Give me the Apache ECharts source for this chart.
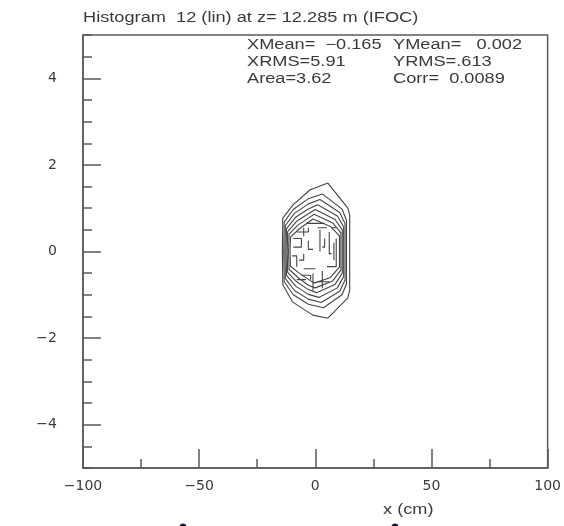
<!DOCTYPE html>
<html>
<head>
<meta charset="utf-8">
<script src="https://cdn.jsdelivr.net/npm/echarts@6/dist/echarts.min.js"></script>
<style>
  html, body { margin: 0; padding: 0; background: #fff; }
  #chart { width: 564px; height: 526px; }
</style>
</head>
<body>
<div id="chart"></div>
<script>
// Axis settings
const xTicks = [-100, -50, 0, 50, 100];
const yTicks = [-4, -2, 0, 2, 4];

// Header and statistics box
const titleText = 'Histogram  12 (lin) at z= 12.285 m (IFOC)';
const statsLeft = ['XMean=  \u22120.165', 'XRMS=5.91', 'Area=3.62'];
const statsRight = ['YMean=   0.002', 'YRMS=.613', 'Corr=  0.0089'];
const xAxisTitle = 'x (cm)';

// Nested contour levels, outermost first: [x (cm), y]
const contour1 = [[5.4,1.58],[14,1.0],[14.8,0.84],[14.8,-0.89],[14,-1.07],[5.4,-1.54],[-1.1,-1.47],[-9.7,-1.17],[-14,-0.77],[-14.2,0],[-14,0.77],[-9.7,1.07],[-2.4,1.42],[5.4,1.58]];
const contour2 = [[3,1.33],[11.5,0.98],[13.4,0.72],[13.4,-0.75],[11.5,-1.0],[3.5,-1.3],[-3,-1.22],[-9.5,-1.0],[-13.4,-0.7],[-13.6,0],[-13.4,0.68],[-9.5,0.97],[-3,1.22],[3,1.33]];
const contour3 = [[2,1.2],[10.5,0.9],[12.8,0.64],[12.8,-0.66],[10.5,-0.92],[2.5,-1.18],[-3,-1.1],[-9,-0.9],[-12.9,-0.62],[-13.1,0],[-12.9,0.6],[-9,0.88],[-3,1.1],[2,1.2]];
const contour4 = [[1,1.08],[9.5,0.82],[12.2,0.57],[12.2,-0.58],[9.5,-0.84],[1.5,-1.06],[-3,-0.99],[-8.5,-0.8],[-12.4,-0.55],[-12.6,0],[-12.4,0.53],[-8.5,0.79],[-3,0.98],[1,1.08]];
const contour5 = [[0,0.97],[8.5,0.74],[11.6,0.5],[11.6,-0.5],[8.5,-0.76],[0.5,-0.95],[-3,-0.88],[-8,-0.7],[-11.9,-0.48],[-12.1,0],[-11.9,0.46],[-8,0.7],[-3,0.87],[0,0.97]];
const contour6 = [[-0.5,0.86],[7.5,0.66],[11,0.43],[11,-0.43],[7.5,-0.68],[0,-0.84],[-3,-0.78],[-7.5,-0.6],[-11.3,-0.41],[-11.5,0],[-11.3,0.4],[-7.5,0.61],[-3,0.77],[-0.5,0.86]];
const contour7 = [[-1,0.75],[6.5,0.58],[10.4,0.36],[10.4,-0.36],[6.5,-0.6],[-0.5,-0.73],[-7,-0.5],[-10.7,-0.34],[-10.9,0],[-10.7,0.33],[-7,0.52],[-1,0.75]];

// Broken contour pieces from the noisy core of the distribution
const fragments = [
  [[-8,0.45],[-3,0.45],[-3,0.55]],
  [[1,0.55],[5,0.55]],
  [[2,0.5],[2,0.0]],
  [[6,0.45],[6,-0.05],[7,-0.05]],
  [[-9.5,0.3],[-6,0.3],[-6,0.1],[-9.5,0.1]],
  [[-10,-0.1],[-8,-0.1],[-8,-0.35]],
  [[-5,-0.4],[0,-0.4]],
  [[-1,-0.5],[-1,-0.9]],
  [[3,-0.45],[3,-0.85]],
  [[5,-0.35],[9,-0.35],[9,0.3]],
  [[-6,-0.55],[-2,-0.55],[-2,-0.65]],
  [[1,-0.7],[6,-0.7]],
  [[-4,0.65],[4,0.65]],
  [[8,0.2],[8,-0.2]],
  [[-3,0.25],[-3,0.05],[-1,0.05]],
  [[4,0.3],[4,0.1],[3,0.1]],
  [[-7,-0.2],[-5,-0.2],[-5,-0.05]],
  [[7,0.55],[9,0.55]],
  [[-5,0.55],[-5,0.35]],
  [[-8,-0.65],[-4,-0.65]]
];

const lineColor = '#444';
const axisColor = '#5a5a5a';
const textColor = '#3a3a3a';
const font = '"Liberation Sans", Arial, sans-serif';
const labelFont = '"DejaVu Sans", sans-serif';

const contourSets = [contour1, contour2, contour3, contour4, contour5, contour6, contour7].concat(fragments);
const series = contourSets.map(function (pts) {
  return {
    type: 'line',
    data: pts,
    showSymbol: false,
    symbol: 'none',
    silent: true,
    animation: false,
    lineStyle: { color: lineColor, width: 1.1 }
  };
});

// Text drawn in a horizontally stretched sans face
function wideText(str, x, y) {
  return {
    type: 'text', x: x, y: y, scaleX: 1.3, silent: true,
    style: { text: str, fill: textColor, font: '14px ' + font, verticalAlign: 'middle', align: 'left' }
  };
}

const graphics = [wideText(titleText, 83, 18.5), wideText(xAxisTitle, 383, 510)];
statsLeft.forEach(function (t, i) { graphics.push(wideText(t, 247, 45.5 + i * 17)); });
statsRight.forEach(function (t, i) { graphics.push(wideText(t, 393, 45.5 + i * 17)); });
// clipped glyph marks along the lower edge
graphics.push({ type: 'circle', shape: { cx: 183, cy: 527, r: 3.5 }, style: { fill: '#14143c' }, silent: true });
graphics.push({ type: 'circle', shape: { cx: 395, cy: 527, r: 3.5 }, style: { fill: '#14143c' }, silent: true });

const chart = echarts.init(document.getElementById('chart'), null, { renderer: 'canvas' });
chart.setOption({
  animation: false,
  backgroundColor: '#fff',
  grid: {
    left: 83, top: 35, width: 465, height: 433,
    show: true, borderColor: axisColor, borderWidth: 1.5, backgroundColor: 'transparent'
  },
  xAxis: {
    type: 'value', min: xTicks[0], max: xTicks[xTicks.length - 1], interval: 50,
    axisLine: { show: true, onZero: false, lineStyle: { color: axisColor, width: 1.5 } },
    axisTick: { show: true, inside: true, length: 19, lineStyle: { color: axisColor, width: 1.5 } },
    minorTick: { show: true, splitNumber: 2, length: 9, lineStyle: { color: axisColor, width: 1.5 } },
    splitLine: { show: false },
    axisLabel: {
      color: textColor, fontSize: 14, fontFamily: labelFont, margin: 11,
      formatter: function (v) { return String(v).replace('-', '\u2212'); }
    }
  },
  yAxis: [{
    type: 'value', min: -5, max: 5, interval: 0.5,
    axisLine: { show: true, onZero: false, lineStyle: { color: axisColor, width: 1.5 } },
    axisTick: { show: true, inside: true, length: 9, lineStyle: { color: axisColor, width: 1.5 } },
    splitLine: { show: false },
    axisLabel: {
      color: textColor, fontSize: 14, fontFamily: labelFont, margin: 26,
      formatter: function (v) { return yTicks.indexOf(v) >= 0 ? String(v).replace('-', '\u2212') : ''; }
    }
  }, {
    type: 'value', min: -5, max: 5, position: 'left',
    axisLine: { show: false, onZero: false },
    axisTick: { show: true, inside: true, length: 18, customValues: yTicks, lineStyle: { color: axisColor, width: 1.5 } },
    splitLine: { show: false },
    axisLabel: { show: false }
  }],
  graphic: graphics,
  series: series
});
</script>
</body>
</html>
